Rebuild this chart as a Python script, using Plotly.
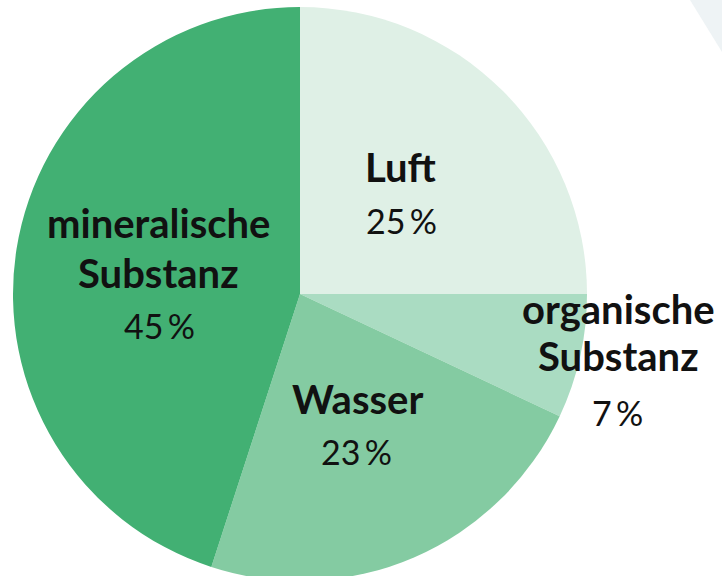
import plotly.graph_objects as go

categories = ["Luft", "organische Substanz", "Wasser", "mineralische Substanz"]
values = [25, 7, 23, 45]
colors = ["#dff0e6", "#aadcc2", "#84cba2", "#42b073"]
name_lines = [["Luft"], ["organische", "Substanz"], ["Wasser"], ["mineralische", "Substanz"]]
pct_labels = ["25\u2009%", "7\u2009%", "23\u2009%", "45\u2009%"]

W, H = 722, 582  # page window is 576 tall; the pie runs slightly past the bottom edge
fig = go.Figure()
fig.add_trace(go.Pie(
    labels=categories, values=values, sort=False, direction="clockwise",
    rotation=0, marker=dict(colors=colors, line=dict(width=0)),
    textinfo="none", hoverinfo="label+percent", showlegend=False,
    domain=dict(x=[13 / W, 587 / W], y=[1 / H, 1 - 7 / H]),
))

# pixel centers: name lines (x, [y...]) and percent label (x, y)
name_pos = [(401, [169]), (618, [311, 358]), (357, [401]), (158, [225, 275])]
pct_pos = [(401, 220), (617, 412), (356, 451), (159, 325)]
font_name = "Lato"
for (x, ys), lines, (px, py), pct in zip(name_pos, name_lines, pct_pos, pct_labels):
    for ln, yy in zip(lines, ys):
        fig.add_annotation(x=x / W, y=1 - (yy - 2) / H, xref="paper", yref="paper",
                           text="<b>" + ln + "</b>", showarrow=False,
                           xanchor="center", yanchor="middle",
                           font=dict(family=font_name, size=40, color="#111111"))
    fig.add_annotation(x=px / W, y=1 - py / H, xref="paper", yref="paper",
                       text=pct, showarrow=False, xanchor="center", yanchor="middle",
                       font=dict(family=font_name, size=34, color="#111111"))

fig.add_shape(type="path", xref="paper", yref="paper",
              path=f"M {690/W} 1 L 1 1 L 1 {1-52/H} Z",
              fillcolor="#eef3f5", line=dict(width=0), layer="below")

fig.update_layout(width=W, height=H, autosize=False,
                  margin=dict(l=0, r=0, t=0, b=0),
                  paper_bgcolor="white", plot_bgcolor="white")
fig.write_html("out.html", config={"displayModeBar": False},
               post_script="document.body.style.margin='0';document.body.style.overflow='hidden';")
